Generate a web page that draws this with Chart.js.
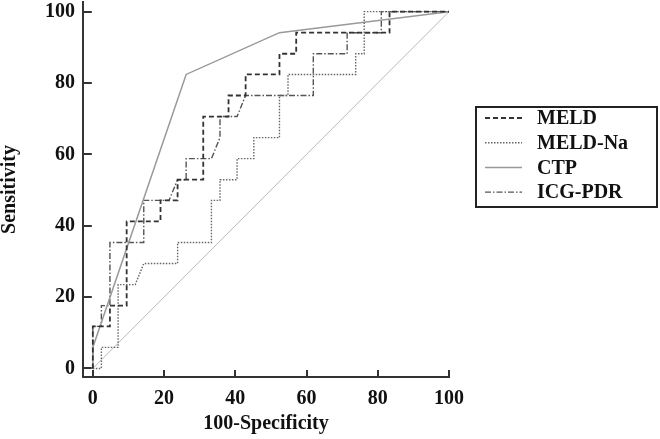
<!DOCTYPE html>
<html>
<head>
<meta charset="utf-8">
<script src="https://cdn.jsdelivr.net/npm/chart.js@4.4.0/dist/chart.umd.min.js"></script>
<style>
	html, body { margin: 0; padding: 0; background: #fff; }
	#wrap { width: 660px; height: 439px; }
</style>
</head>
<body>
<div id="wrap"><canvas id="roc"></canvas></div>
<script>
	// ROC data (100-Specificity vs Sensitivity)
	var tickValues = [0, 20, 40, 60, 80, 100];
	var seriesNames = ['MELD', 'MELD-Na', 'CTP', 'ICG-PDR'];

	var meldX = [0, 0, 4.8, 4.8, 9.5, 9.5, 19.0, 19.0, 23.8, 23.8, 31.0, 31.0, 38.1, 38.1, 42.9, 42.9, 52.4, 52.4, 57.1, 57.1, 83.3, 83.3, 100];
	var meldY = [0, 11.8, 11.8, 17.6, 17.6, 41.2, 41.2, 47.1, 47.1, 52.9, 52.9, 70.6, 70.6, 76.5, 76.5, 82.4, 82.4, 88.2, 88.2, 94.1, 94.1, 100, 100];

	var meldNaX = [0, 2.4, 2.4, 7.1, 7.1, 11.9, 14.3, 23.8, 23.8, 33.3, 33.3, 35.7, 35.7, 40.5, 40.5, 45.2, 45.2, 52.4, 52.4, 54.8, 54.8, 73.8, 73.8, 76.2, 76.2, 100];
	var meldNaY = [0, 0, 5.9, 5.9, 23.5, 23.5, 29.4, 29.4, 35.3, 35.3, 47.1, 47.1, 52.9, 52.9, 58.8, 58.8, 64.7, 64.7, 76.5, 76.5, 82.4, 82.4, 88.2, 88.2, 100, 100];

	var ctpX = [0, 0, 26.2, 52.4, 100];
	var ctpY = [0, 5.9, 82.4, 94.1, 100];

	var icgX = [0, 0, 2.4, 2.4, 4.8, 4.8, 14.3, 14.3, 21.4, 23.8, 26.2, 26.2, 33.3, 35.7, 35.7, 40.5, 42.9, 61.9, 61.9, 71.4, 71.4, 81.0, 81.0, 100];
	var icgY = [0, 11.8, 11.8, 17.6, 17.6, 35.3, 35.3, 47.1, 47.1, 52.9, 52.9, 58.8, 58.8, 64.7, 70.6, 70.6, 76.5, 76.5, 88.2, 88.2, 94.1, 94.1, 100, 100];

	var refX = [0, 100];
	var refY = [0, 100];

	function pts(xs, ys) {
		return xs.map(function (x, i) {
			return { x: x, y: ys[i] };
		});
	}

	var serif = "'Liberation Serif', 'Times New Roman', serif";

	// Tick marks point inward, towards the data origin
	var inwardTicks = {
		id: 'inwardTicks',
		afterDraw: function (chart) {
			var ctx = chart.ctx;
			var area = chart.chartArea;
			var sx = chart.scales.x;
			var sy = chart.scales.y;
			ctx.save();
			ctx.strokeStyle = '#333';
			ctx.lineWidth = 2;
			tickValues.forEach(function (v) {
				var py = Math.round(sy.getPixelForValue(v));
				ctx.beginPath();
				ctx.moveTo(area.left, py);
				ctx.lineTo(sx.getPixelForValue(0) - 1, py);
				ctx.stroke();
				var px = Math.round(sx.getPixelForValue(v));
				ctx.beginPath();
				ctx.moveTo(px, area.bottom);
				ctx.lineTo(px, area.bottom - 7);
				ctx.stroke();
			});
			ctx.restore();
		},
	};

	// Boxed legend on the right
	var boxLegend = {
		id: 'boxLegend',
		afterDraw: function (chart) {
			var ctx = chart.ctx;
			var box = { left: 476, top: 107, right: 657, bottom: 207 };
			ctx.save();
			ctx.strokeStyle = '#222';
			ctx.lineWidth = 2;
			ctx.strokeRect(box.left, box.top, box.right - box.left, box.bottom - box.top);
			ctx.font = 'bold 20px ' + serif;
			ctx.textBaseline = 'middle';
			ctx.fillStyle = '#111';
			seriesNames.forEach(function (name, i) {
				var ds = chart.data.datasets[i];
				var y = box.top + 11 + i * 24.7;
				ctx.save();
				ctx.strokeStyle = ds.borderColor;
				ctx.lineWidth = ds.borderWidth;
				ctx.setLineDash(ds.borderDash || []);
				ctx.beginPath();
				ctx.moveTo(485, y);
				ctx.lineTo(522, y);
				ctx.stroke();
				ctx.restore();
				ctx.fillText(name, 537, y + 1);
			});
			ctx.restore();
		},
	};

	var ctx1 = document.getElementById('roc').getContext('2d');
	var rocChart = new Chart(ctx1, {
		type: 'scatter',
		data: {
			datasets: [
				{
					label: seriesNames[0],
					data: pts(meldX, meldY),
					borderColor: '#333',
					borderWidth: 1.8,
					borderDash: [5, 3],
				},
				{
					label: seriesNames[1],
					data: pts(meldNaX, meldNaY),
					borderColor: '#666',
					borderWidth: 1.4,
					borderDash: [1.5, 1.5],
				},
				{
					label: seriesNames[2],
					data: pts(ctpX, ctpY),
					borderColor: '#999',
					borderWidth: 1.5,
				},
				{
					label: seriesNames[3],
					data: pts(icgX, icgY),
					borderColor: '#555',
					borderWidth: 1.4,
					borderDash: [6, 2, 1.5, 2],
				},
				{
					label: '',
					data: pts(refX, refY),
					borderColor: '#bbb',
					borderWidth: 1,
				},
			],
		},
		options: {
			responsive: true,
			maintainAspectRatio: false,
			animation: false,
			devicePixelRatio: 1,
			showLine: true,
			elements: {
				point: { radius: 0, hoverRadius: 0 },
				line: { tension: 0, fill: false },
			},
			layout: { padding: { top: 2, right: 211, bottom: 0, left: 0 } },
			plugins: {
				legend: { display: false },
				tooltip: { enabled: false },
			},
			scales: {
				x: {
					type: 'linear',
					min: -2.76,
					max: 100,
					afterBuildTicks: function (s) {
						s.ticks = tickValues.map(function (v) { return { value: v }; });
					},
					afterFit: function (s) {
						s.height = 62;
						s.paddingLeft = 0;
						s.paddingRight = 0;
					},
					grid: { display: false, drawTicks: false },
					border: { display: true, color: '#333', width: 2 },
					ticks: {
						padding: 10,
						color: '#111',
						font: { family: serif, size: 20, weight: 'bold' },
					},
					title: {
						display: true,
						text: '100-Specificity',
						color: '#111',
						font: { family: serif, size: 20, weight: 'bold', lineHeight: 1 },
						padding: { top: 0, bottom: 5 },
					},
				},
				y: {
					type: 'linear',
					min: -2.4,
					max: 102.7,
					afterBuildTicks: function (s) {
						s.ticks = tickValues.map(function (v) { return { value: v }; });
					},
					afterFit: function (s) {
						s.width = 83;
						s.paddingTop = 0;
						s.paddingBottom = 0;
					},
					grid: { display: false, drawTicks: false },
					border: { display: true, color: '#333', width: 2 },
					ticks: {
						padding: 8,
						color: '#111',
						font: { family: serif, size: 20, weight: 'bold' },
					},
					title: {
						display: true,
						text: 'Sensitivity',
						color: '#111',
						font: { family: serif, size: 20, weight: 'bold', lineHeight: 1 },
						padding: { top: 0, bottom: 0 },
					},
				},
			},
		},
		plugins: [inwardTicks, boxLegend],
	});
</script>
</body>
</html>
